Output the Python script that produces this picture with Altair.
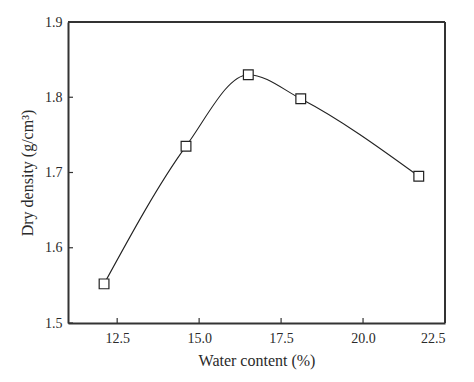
import altair as alt
import pandas as pd

water = [12.1, 14.6, 16.5, 18.1, 21.7]
density = [1.552, 1.735, 1.830, 1.798, 1.695]
x_ticks = [12.5, 15.0, 17.5, 20.0, 22.5]
y_ticks = [1.5, 1.6, 1.7, 1.8, 1.9]

df = pd.DataFrame({"w": water, "d": density})
xt = pd.DataFrame({"t": x_ticks})
yt = pd.DataFrame({"t": y_ticks})

W, H = 377, 301
FONT = "Liberation Serif"
GRAY = "#333333"
TXT = "#2a2a2a"

xs = alt.Scale(domain=[11, 22.5], nice=False, zero=False)
ys = alt.Scale(domain=[1.5, 1.9], nice=False, zero=False)

xaxis = alt.Axis(values=x_ticks, format=".1f", ticks=False, domain=True, domainColor=GRAY,
                 domainWidth=2, domainOpacity=1, grid=False,
                 labelPadding=8, titlePadding=7, labelFont=FONT, titleFont=FONT,
                 labelFontSize=14, titleFontSize=16, titleFontWeight="normal",
                 labelColor=TXT, titleColor=TXT)
yaxis = alt.Axis(values=y_ticks, format=".1f", ticks=False, domain=True, domainColor=GRAY,
                 domainWidth=2, domainOpacity=1, grid=False,
                 labelPadding=6, titlePadding=9, labelFont=FONT, titleFont=FONT,
                 labelFontSize=14, titleFontSize=16, titleFontWeight="normal",
                 labelColor=TXT, titleColor=TXT)

line = alt.Chart(df).mark_line(interpolate="monotone", color="#222", strokeWidth=1.1).encode(
    x=alt.X("w:Q", scale=xs, axis=xaxis, title="Water content (%)"),
    y=alt.Y("d:Q", scale=ys, axis=yaxis, title="Dry density (g/cm³)"),
)
pts = alt.Chart(df).mark_point(shape="square", size=95, filled=True, fill="white",
                               stroke="#222", strokeWidth=1.2, opacity=1).encode(
    x=alt.X("w:Q", scale=xs), y=alt.Y("d:Q", scale=ys)
)
xtick = alt.Chart(xt).mark_rule(color=GRAY, strokeWidth=1.2).encode(
    x=alt.X("t:Q", scale=xs), y=alt.value(H), y2=alt.value(H - 5)
)
ytick = alt.Chart(yt).mark_rule(color=GRAY, strokeWidth=1.2).encode(
    y=alt.Y("t:Q", scale=ys), x=alt.value(0), x2=alt.value(5)
)
top = alt.Chart(xt).mark_rule(color=GRAY, strokeWidth=2, opacity=1).encode(
    x=alt.value(0), x2=alt.value(W), y=alt.value(0)
)
right = alt.Chart(xt).mark_rule(color=GRAY, strokeWidth=2, opacity=1).encode(
    x=alt.value(W), y=alt.value(0), y2=alt.value(H)
)

chart = alt.layer(line, xtick, ytick, top, right, pts).properties(
    width=W, height=H,
    background="white",
    autosize=alt.AutoSizeParams(type="none"),
    padding={"left": 60, "top": 14, "right": 20, "bottom": 50},
).configure_view(stroke=None)

chart.save("out.html", embed_options={"renderer": "svg", "actions": False})
